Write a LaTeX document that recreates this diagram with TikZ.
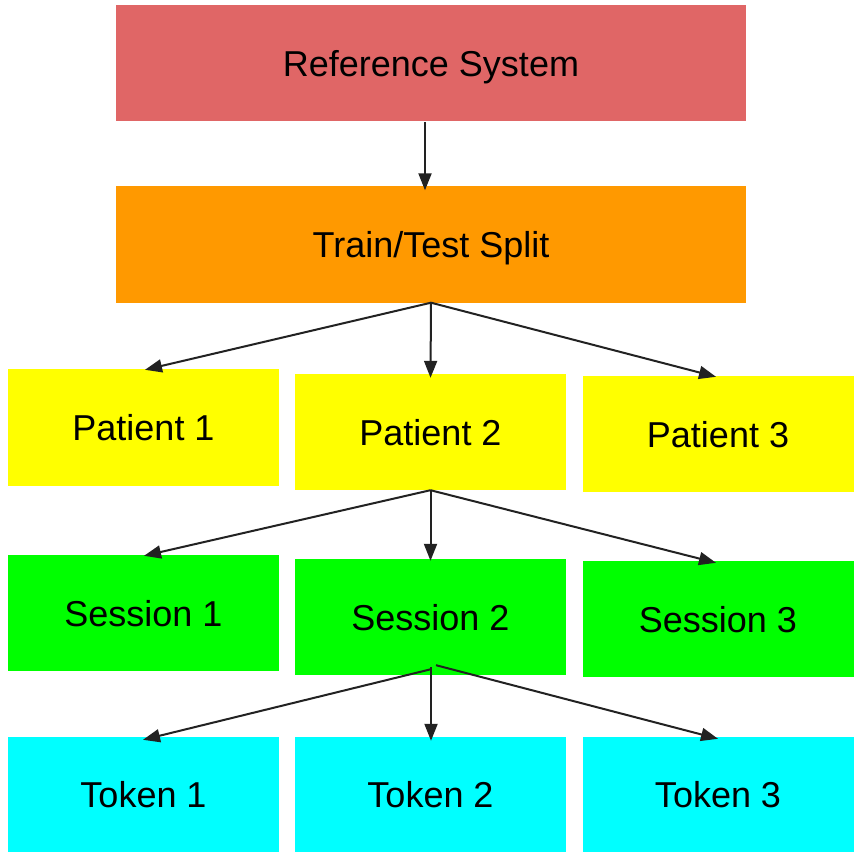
\documentclass[tikz,border=0pt]{standalone}
\usepackage{fontspec}
\setmainfont{Liberation Sans}
\usetikzlibrary{arrows.meta}
\definecolor{refred}{HTML}{E06666}
\definecolor{splitorange}{HTML}{FF9900}
\definecolor{patyellow}{HTML}{FFFF00}
\definecolor{sessgreen}{HTML}{00FF00}
\definecolor{tokcyan}{HTML}{00FFFF}
\definecolor{arrowgray}{HTML}{222222}
\begin{document}
\begin{tikzpicture}[x=1pt,y=-1pt,
  box/.style={draw=none, inner sep=0pt, text depth=0pt, font=\fontsize{36}{42}\selectfont, text=black},
  wide/.style={box, minimum width=630pt, minimum height=116pt},
  small/.style={box, minimum width=271pt, minimum height=116pt},
  arr/.style={draw=arrowgray, line width=2pt, -{Triangle[length=17pt,width=13pt]}}
]
\useasboundingbox (0,0) rectangle (861,858);
\fill[white] (0,0) rectangle (861,858);

\node[wide, fill=refred] (ref) at (431,63) {Reference System};
\node[wide, fill=splitorange] (split) at (431,244.5) {Train/Test Split};

\node[small, fill=patyellow, minimum height=117pt] (p1) at (143.5,427.5) {Patient 1};
\node[small, fill=patyellow] (p2) at (430.5,432) {Patient 2};
\node[small, fill=patyellow] (p3) at (718,434) {Patient 3};

\node[small, fill=sessgreen] (s1) at (143.5,613) {Session 1};
\node[small, fill=sessgreen] (s2) at (430.5,617) {Session 2};
\node[small, fill=sessgreen] (s3) at (718,619) {Session 3};

\node[small, fill=tokcyan, minimum height=115pt] (t1) at (143.5,794.5) {Token 1};
\node[small, fill=tokcyan, minimum height=115pt] (t2) at (430.5,794.5) {Token 2};
\node[small, fill=tokcyan, minimum height=115pt] (t3) at (718,794.5) {Token 3};

\draw[arr] ([xshift=-6pt,yshift=-1pt]ref.south) -- ([xshift=-6pt,yshift=-4pt]split.north);

\draw[arr] (split.south) -- ([xshift=1.5pt,yshift=-1pt]p1.north);
\draw[arr] (split.south) -- ([yshift=-4pt]p2.north);
\draw[arr] (split.south) -- ([xshift=-2pt,yshift=-1pt]p3.north);

\draw[arr] (p2.south) -- ([xshift=0.5pt,yshift=-1pt]s1.north);
\draw[arr] (p2.south) -- ([yshift=-2pt]s2.north);
\draw[arr] (p2.south) -- ([xshift=-2pt,yshift=-2pt]s3.north);

\coordinate (s2l) at ([xshift=0.5pt,yshift=6pt]s2.south);
\coordinate (s2m) at ([xshift=0.5pt,yshift=8pt]s2.south);
\coordinate (s2r) at ([xshift=5.5pt,yshift=10pt]s2.south);
\draw[arr] (s2l) -- ([xshift=-0.5pt,yshift=-3pt]t1.north);
\draw[arr] (s2m) -- ([xshift=0.5pt,yshift=-4pt]t2.north);
\draw[arr] (s2r) -- ([yshift=-2pt]t3.north);
\end{tikzpicture}
\end{document}
